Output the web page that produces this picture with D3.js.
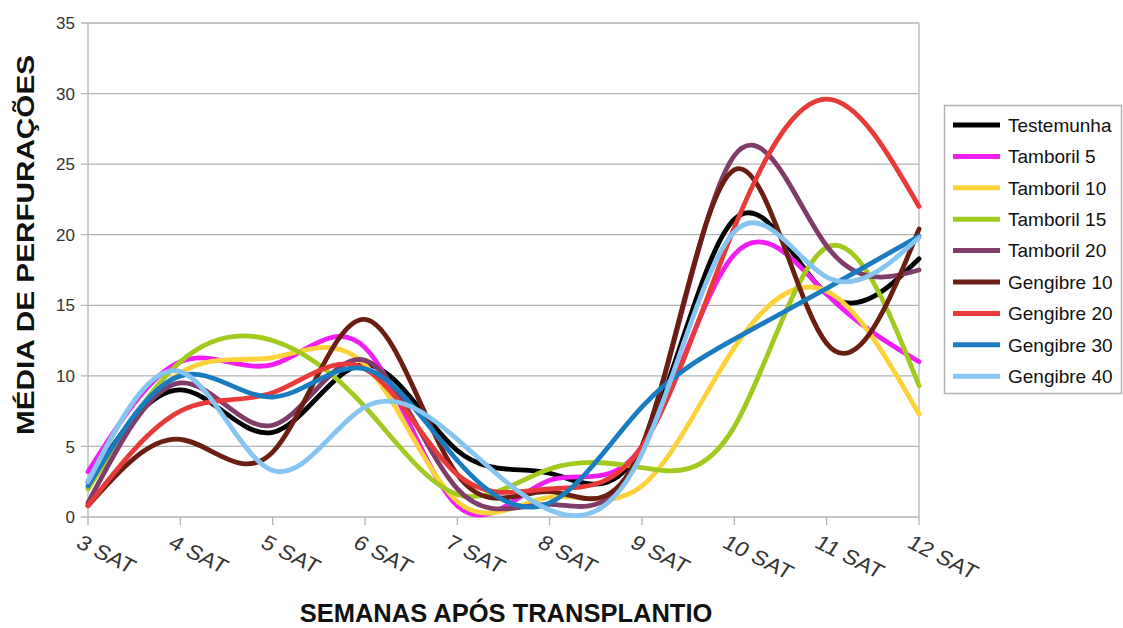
<!DOCTYPE html>
<html>
<head>
<meta charset="utf-8">
<script src="https://cdn.jsdelivr.net/npm/d3@7"></script>
<style>
  html, body { margin: 0; padding: 0; background: #fff; }
  svg { display: block; }
  text { font-family: "Liberation Sans", Arial, sans-serif; }
</style>
</head>
<body>
<svg id="chart" width="1123" height="628"></svg>
<script>
// Weeks after transplanting
const categories = ["3 SAT", "4 SAT", "5 SAT", "6 SAT", "7 SAT", "8 SAT", "9 SAT", "10 SAT", "11 SAT", "12 SAT"];

// Mean number of perforations per treatment
const testemunha = [2.5, 9.0, 6.0, 10.8, 4.7, 3.1, 5.0, 21.1, 15.8, 18.3];
const tamboril5  = [3.2, 11.0, 10.8, 12.0, 0.8, 2.6, 5.0, 18.6, 15.8, 11.0];
const tamboril10 = [2.0, 10.2, 11.3, 10.8, 1.1, 1.4, 2.2, 12.0, 16.0, 7.3];
const tamboril15 = [2.0, 11.0, 12.5, 7.8, 1.6, 3.4, 3.5, 6.4, 19.1, 9.3];
const tamboril20 = [1.0, 9.5, 6.5, 11.1, 2.0, 0.9, 5.0, 25.6, 19.2, 17.5];
const gengibre10 = [0.8, 5.5, 4.6, 14.0, 3.0, 1.8, 5.0, 24.6, 12.3, 20.4];
const gengibre20 = [0.8, 7.5, 8.8, 10.5, 3.0, 2.0, 5.0, 20.5, 29.6, 22.0];
const gengibre30 = [2.2, 10.0, 8.5, 10.5, 4.0, 1.0, 7.8, 12.6, 16.2, 19.9];
const gengibre40 = [2.5, 10.3, 3.3, 7.8, 5.5, 0.5, 4.5, 20.2, 17.0, 19.8];

const seriesNames = ["Testemunha", "Tamboril 5", "Tamboril 10", "Tamboril 15", "Tamboril 20",
                     "Gengibre 10", "Gengibre 20", "Gengibre 30", "Gengibre 40"];
const seriesValues = [testemunha, tamboril5, tamboril10, tamboril15, tamboril20,
                      gengibre10, gengibre20, gengibre30, gengibre40];
const seriesColors = ["#000000", "#f01ef0", "#fcd23a", "#a2c91e", "#803d69",
                      "#6b1f12", "#e93a3a", "#1a7cc0", "#86c4f2"];

const yTicks = [0, 5, 10, 15, 20, 25, 30, 35];

const svg = d3.select("#chart");
const plot = { left: 88, right: 919, top: 23, bottom: 517 };

const x = d3.scalePoint().domain(categories).range([plot.left, plot.right]);
const y = d3.scaleLinear().domain([0, 35]).range([plot.bottom, plot.top]);

const gridColor = "#b3b3b3";

// Horizontal gridlines with outward ticks on the left
svg.append("g")
  .selectAll("line")
  .data(yTicks)
  .join("line")
  .attr("x1", plot.left - 7)
  .attr("x2", plot.right)
  .attr("y1", d => y(d))
  .attr("y2", d => y(d))
  .attr("stroke", gridColor)
  .attr("stroke-width", 1.3);

// Plot frame: left and right edges
svg.append("line")
  .attr("x1", plot.left).attr("x2", plot.left)
  .attr("y1", plot.top).attr("y2", plot.bottom)
  .attr("stroke", gridColor).attr("stroke-width", 1.3);
svg.append("line")
  .attr("x1", plot.right).attr("x2", plot.right)
  .attr("y1", plot.top).attr("y2", plot.bottom)
  .attr("stroke", gridColor).attr("stroke-width", 1.3);

// Category ticks below the axis
svg.append("g")
  .selectAll("line")
  .data(categories)
  .join("line")
  .attr("x1", d => x(d)).attr("x2", d => x(d))
  .attr("y1", plot.bottom).attr("y2", plot.bottom + 8)
  .attr("stroke", gridColor).attr("stroke-width", 1.3);

// Y tick labels
svg.append("g")
  .selectAll("text")
  .data(yTicks)
  .join("text")
  .attr("x", plot.left - 13)
  .attr("y", d => y(d))
  .attr("dy", "0.36em")
  .attr("text-anchor", "end")
  .attr("font-size", 17)
  .attr("fill", "#333")
  .text(d => d);

// X tick labels, slanted and slightly widened
svg.append("g")
  .selectAll("text")
  .data(categories)
  .join("text")
  .attr("transform", d => `translate(${x(d) - 5},${plot.bottom + 17}) scale(1.15,1) rotate(30)`)
  .attr("dy", "0.71em")
  .attr("text-anchor", "start")
  .attr("font-size", 20.5)
  .attr("fill", "#333")
  .text(d => d);

// Smooth series lines
const line = d3.line()
  .x((d, i) => x(categories[i]))
  .y(d => y(d))
  .curve(d3.curveNatural);

svg.append("g")
  .selectAll("path")
  .data(seriesValues)
  .join("path")
  .attr("d", d => line(d))
  .attr("fill", "none")
  .attr("stroke", (d, i) => seriesColors[i])
  .attr("stroke-width", 4.8)
  .attr("stroke-linejoin", "round")
  .attr("stroke-linecap", "round");

// Axis titles
svg.append("text")
  .attr("x", 506)
  .attr("y", 622)
  .attr("text-anchor", "middle")
  .attr("font-size", 25.5)
  .attr("font-weight", "bold")
  .attr("fill", "#111")
  .text("SEMANAS APÓS TRANSPLANTIO");

svg.append("text")
  .attr("transform", "translate(34,245) rotate(-90)")
  .attr("text-anchor", "middle")
  .attr("font-size", 24)
  .attr("font-weight", "bold")
  .attr("fill", "#111")
  .attr("textLength", 380)
  .attr("lengthAdjust", "spacingAndGlyphs")
  .text("MÉDIA DE PERFURAÇÕES");

// Legend
const legend = svg.append("g");
legend.append("rect")
  .attr("x", 944.5).attr("y", 105.5)
  .attr("width", 177).attr("height", 288)
  .attr("fill", "#fff")
  .attr("stroke", gridColor).attr("stroke-width", 1.5);

const rowY = i => 125 + i * 31.4;
legend.selectAll("line.key")
  .data(seriesNames)
  .join("line")
  .attr("class", "key")
  .attr("x1", 953).attr("x2", 1000)
  .attr("y1", (d, i) => rowY(i)).attr("y2", (d, i) => rowY(i))
  .attr("stroke", (d, i) => seriesColors[i])
  .attr("stroke-width", 5);

legend.selectAll("text")
  .data(seriesNames)
  .join("text")
  .attr("x", 1008)
  .attr("y", (d, i) => rowY(i))
  .attr("dy", "0.36em")
  .attr("font-size", 19)
  .attr("fill", "#111")
  .text(d => d);
</script>
</body>
</html>
